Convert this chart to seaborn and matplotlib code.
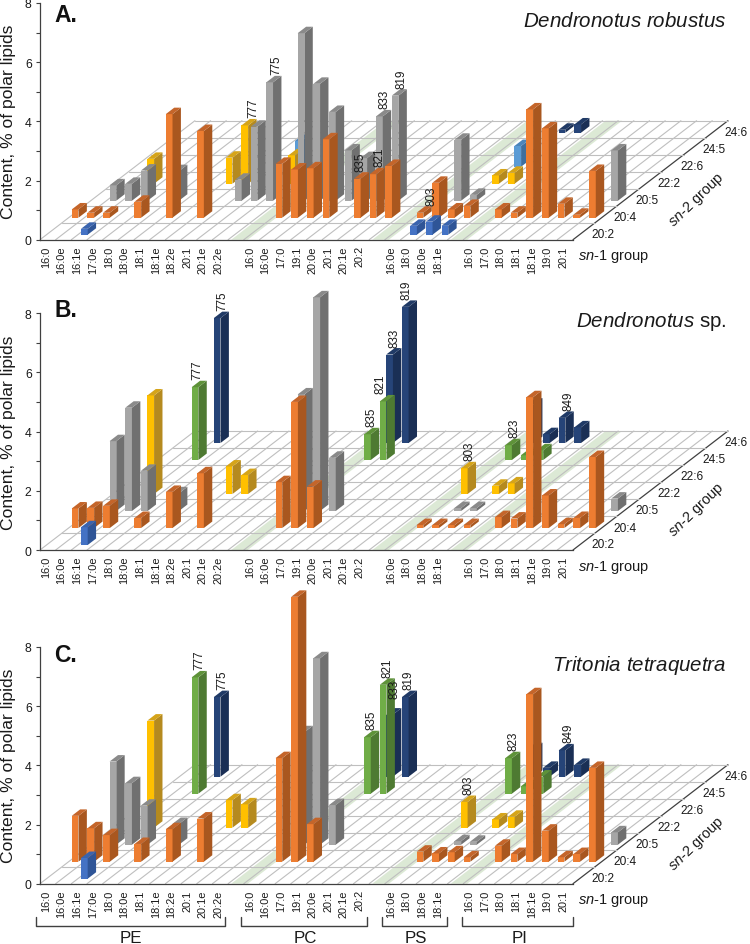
import matplotlib
matplotlib.use("Agg")
import matplotlib.pyplot as plt
import seaborn as sns

# ---------- categories ----------
SN1_LABELS = ["16:0","16:0e","16:1e","17:0e","18:0","18:0e","18:1","18:1e","18:2e","20:1","20:1e","20:2e",
              "16:0","16:0e","17:0","19:1","20:0e","20:1","20:1e","20:2",
              "16:0e","18:0","18:0e","18:1e",
              "16:0","17:0","18:0","18:1","18:1e","19:0","20:1"]
SN1_COLS = list(range(0,12)) + list(range(13,21)) + list(range(22,26)) + list(range(27,34))
SN2_LABELS = ["20:2","20:4","20:5","22:2","22:6","24:5","24:6"]
STRIPE_COLS = [12, 21, 26]
YTICKS = [0,1,2,3,4,5,6,7,8]
YTICKLABELS = ["0","","2","","4","","6","","8"]

# ---------- panel A values (row index, columns, contents) ----------
A_r0_cols = [2,23,24,25]
A_r0_vals = [0.20,0.30,0.44,0.30]
A_r1_cols = [0,1,2,4,6,8,13,14,15,16,18,19,20,22,23,24,25,27,28,29,30,31,32,33]
A_r1_vals = [0.28,0.17,0.17,0.54,3.50,2.93,1.82,1.63,1.67,2.65,1.32,1.47,1.75,0.17,1.18,0.28,0.40,0.28,0.17,3.66,3.02,0.47,0.10,1.58]
A_r2_cols = [1,2,3,5,9,10,11,13,14,15,16,17,18,19,23,24,33]
A_r2_vals = [0.52,0.57,1.02,1.00,0.71,2.50,4.00,5.66,3.95,3.00,1.70,1.44,2.85,3.55,2.06,0.20,1.70]
A_r3_cols = [2,7,8,11,24,25]
A_r3_vals = [0.84,0.88,1.97,0.96,0.28,0.37]
A_r4_cols = [10,24]
A_r4_vals = [0.87,0.70]
A_r5_cols = []
A_r5_vals = []
A_r6_cols = [24,25]
A_r6_vals = [0.10,0.28]

# ---------- panel B values ----------
B_r0_cols = [2]
B_r0_vals = [0.60]
B_r1_cols = [0,1,2,4,6,8,13,14,15,22,23,24,25,27,28,29,30,31,32,33]
B_r1_vals = [0.66,0.68,0.75,0.34,1.22,1.85,1.55,4.26,1.40,0.10,0.10,0.10,0.10,0.37,0.32,4.42,1.10,0.13,0.34,2.40]
B_r2_cols = [1,2,3,5,13,14,15,23,24,33]
B_r2_vals = [2.36,3.49,1.36,0.60,3.94,7.22,1.80,0.10,0.10,0.42]
B_r3_cols = [2,7,8,22,24,25]
B_r3_vals = [3.33,0.93,0.64,0.87,0.28,0.36]
B_r4_cols = []
B_r4_vals = []
B_r5_cols = [2,13,14,22,23,24]
B_r5_vals = [2.46,0.87,1.98,0.50,0.16,0.33]
B_r6_cols = [2,13,14,22,23,24,25]
B_r6_vals = [4.22,2.99,4.60,1.30,0.30,0.85,0.53]

# ---------- panel C values ----------
C_r0_cols = [2]
C_r0_vals = [0.70]
C_r1_cols = [0,1,2,4,6,8,13,14,15,22,23,24,25,27,28,29,30,31,32,33]
C_r1_vals = [1.55,1.13,0.90,0.60,1.10,1.46,3.50,8.95,1.27,0.34,0.28,0.32,0.15,0.54,0.26,5.66,1.05,0.15,0.26,3.17]
C_r2_cols = [1,2,3,5,13,14,15,23,24,33]
C_r2_vals = [2.81,2.08,1.32,0.70,3.80,6.30,1.34,0.12,0.10,0.42]
C_r3_cols = [2,7,8,22,24,25]
C_r3_vals = [3.62,0.93,0.79,0.87,0.28,0.37]
C_r4_cols = []
C_r4_vals = []
C_r5_cols = [2,13,14,22,23,24]
C_r5_vals = [3.93,1.91,3.68,1.20,0.25,0.58]
C_r6_cols = [2,13,14,22,23,24,25]
C_r6_vals = [2.69,2.10,2.69,0.93,0.30,0.89,0.40]

# ---------- m/z labels ----------
A_lab_text = ["777","775","835","821","833","819","803"]
A_lab_row  = [3,2,1,1,2,2,1]
A_lab_col  = [8,11,18,19,18,19,22]
A_lab_dx   = [12,10,7,10,8,10,15]
B_lab_text = ["777","775","835","821","833","819","803","823","849"]
B_lab_row  = [5,6,5,5,6,6,3,5,6]
B_lab_col  = [2,2,13,14,13,14,22,22,24]
B_lab_dx   = [6,9,7,1,8,5,9,9,10]
C_lab_text = ["777","775","835","821","833","819","803","823","849"]
C_lab_row  = [5,6,5,5,6,6,3,5,6]
C_lab_col  = [2,2,13,14,13,14,22,22,24]
C_lab_dx   = [8,9,7,8,8,7,8,8,10]
C_lab_gap  = {"833": 9}

GROUPS = ["PE","PC","PS","PI"]
GROUP_START = [-0.275,12.8,21.8,26.94]
GROUP_END = [11.8,20.87,25.96,34.0]
GROUP_CENTER = [5.8,16.9,24.0,30.6]

# ---------- style ----------
sns.set_theme(style="ticks", font="Liberation Sans")
plt.rcParams.update({"mathtext.fontset":"custom","mathtext.it":"Liberation Sans:italic",
                     "mathtext.rm":"Liberation Sans","mathtext.default":"regular"})
FRONT = sns.color_palette(["#4472C4","#ED7D31","#A6A6A6","#FFC000","#5B9BD5","#70AD47","#264478"])
SIDE  = sns.color_palette(["#2F5597","#A9571F","#707070","#B58A1F","#3F6F9E","#4E7A32","#1A2F55"])
TOP   = sns.color_palette(["#3A64AE","#C4652A","#8A8A8A","#D5A41A","#4C85BB","#5E9239","#203A66"])
FLOOR = "#BFBFBF"; STRIPE = "#DCE9D5"; AXC = "#404040"; TXT = "#1A1A1A"

PX_X, PX_Y = 15.68, 29.6        # pixels per column / per content unit
KX, KY = 22.14/PX_X, 17.0/PX_Y  # shear of one sn-2 row
BAR_W, BAR_D, BAR_C0, BAR_D0 = 0.427, 0.38, 0.2, 0.293

def proj(col, depth, z=0.0):
    return col + depth*KX, z + depth*KY

fig = plt.figure(figsize=(7.5,9.45), dpi=100, facecolor="white")

def note(ax, s, dx, dy, **kw):
    kw.setdefault("color", TXT)
    return ax.annotate(s, xy=(0,0), xycoords="data", xytext=(dx*0.72,dy*0.72),
                       textcoords="offset points", annotation_clip=False, **kw)

def draw_floor(ax):
    for c in STRIPE_COLS:
        pts = [proj(c+.2,0), proj(c+1.25,0), proj(c+1.25,7), proj(c+.2,7)]
        ax.fill(*zip(*pts), color=STRIPE, lw=0, clip_on=False, zorder=1)
    for c in range(0,35):
        a, b = proj(c,0), proj(c,7)
        ax.plot([a[0],b[0]],[a[1],b[1]], color=AXC if c==34 else FLOOR, lw=.9 if c==34 else .8, clip_on=False, zorder=2)
    for r in range(1,8):
        a, b = proj(0,r), proj(34,r)
        ax.plot([a[0],b[0]],[a[1],b[1]], color=FLOOR, lw=.8, clip_on=False, zorder=2)

def draw_bars(ax, rows):
    for r in range(6,-1,-1):
        cols, vals = rows[r]
        z = 10 + (6-r)
        for c, v in zip(cols, vals):
            x0, y0 = proj(c+BAR_C0, r+BAR_D0)
            ax.bar(x0, v, BAR_W, bottom=y0, align="edge", color=FRONT[r], lw=0, clip_on=False, zorder=z)
            x1 = x0+BAR_W; t = y0+v
            dx, dy = BAR_D*KX, BAR_D*KY
            ax.fill([x1,x1+dx,x1+dx,x1],[y0,y0+dy,t+dy,t], color=SIDE[r], lw=0, clip_on=False, zorder=z)
            ax.fill([x0,x1,x1+dx,x0+dx],[t,t,t+dy,t+dy], color=TOP[r], lw=0, clip_on=False, zorder=z)

def draw_labels(ax, rows, text, rw, cl, ddx, gaps=None):
    gaps = gaps or {}
    for s, r, c, d in zip(text, rw, cl, ddx):
        v = rows[r][1][rows[r][0].index(c)]
        x0, y0 = proj(c+BAR_C0, r+BAR_D0+BAR_D, v)
        x0 = c+BAR_C0 + (r+BAR_D0)*KX + d/PX_X
        ax.annotate(s, xy=(x0,y0), xytext=(0,(1.5+gaps.get(s,0))*.72), textcoords="offset points",
                    rotation=90, ha="center", va="bottom", fontsize=8.4, color=TXT, zorder=30, annotation_clip=False)

def panel(y0_px, letter, letter_dy, title, title_dy, rows, lab):
    h = 236.8
    ax = fig.add_axes([40/750, (945-y0_px)/945, 533/750, h/945], zorder=1000-y0_px)
    ax.set_facecolor("none")
    ax.set_xlim(0,34); ax.set_ylim(0,8)
    sns.despine(ax=ax)
    for sp in ("left","bottom"):
        ax.spines[sp].set_color(AXC); ax.spines[sp].set_linewidth(.9)
    ax.set_yticks(YTICKS); ax.set_yticklabels(YTICKLABELS, fontsize=8.8, color=TXT)
    ax.tick_params(axis="y", length=3, width=.8, color=AXC, pad=3)
    ax.set_xticks([c+.38 for c in SN1_COLS])
    ax.set_xticklabels(SN1_LABELS, rotation=90, fontsize=7.9, color=TXT, ha="center", va="top")
    ax.tick_params(axis="x", length=0, pad=4)
    ax.set_ylabel("Content, % of polar lipids", fontsize=12.6, color=TXT)
    ax.yaxis.set_label_coords(-24/533, .5)
    draw_floor(ax)
    draw_bars(ax, rows)
    draw_labels(ax, rows, *lab)
    note(ax, letter, 14, letter_dy, fontsize=16.5, fontweight="bold", color="#111111", ha="left", va="baseline", zorder=40)
    note(ax, title, 686.7, title_dy, fontsize=14.8, ha="right", va="baseline", zorder=40)
    note(ax, r"$\mathit{sn}$-1 group", 538, -16, fontsize=10.5, ha="left", va="center")
    note(ax, r"$\mathit{sn}$-2 group", 657, 40.7, fontsize=10.5, ha="center", va="center", rotation=44)
    for r, s in enumerate(SN2_LABELS):
        x, y = proj(34, r+.5)
        ax.annotate(s, xy=(x,y), xytext=(19*.72,-3*.72), textcoords="offset points",
                    fontsize=8.6, color=TXT, ha="center", va="center", annotation_clip=False)
    return ax

rows_A = [(A_r0_cols,A_r0_vals),(A_r1_cols,A_r1_vals),(A_r2_cols,A_r2_vals),(A_r3_cols,A_r3_vals),
          (A_r4_cols,A_r4_vals),(A_r5_cols,A_r5_vals),(A_r6_cols,A_r6_vals)]
rows_B = [(B_r0_cols,B_r0_vals),(B_r1_cols,B_r1_vals),(B_r2_cols,B_r2_vals),(B_r3_cols,B_r3_vals),
          (B_r4_cols,B_r4_vals),(B_r5_cols,B_r5_vals),(B_r6_cols,B_r6_vals)]
rows_C = [(C_r0_cols,C_r0_vals),(C_r1_cols,C_r1_vals),(C_r2_cols,C_r2_vals),(C_r3_cols,C_r3_vals),
          (C_r4_cols,C_r4_vals),(C_r5_cols,C_r5_vals),(C_r6_cols,C_r6_vals)]

panel(240.7, "A.", 219, r"$\mathit{Dendronotus\ robustus}$", 214, rows_A,
      (A_lab_text,A_lab_row,A_lab_col,A_lab_dx))
panel(551.0, "B.", 234, r"$\mathit{Dendronotus}$ sp.", 224, rows_B,
      (B_lab_text,B_lab_row,B_lab_col,B_lab_dx))
axC = panel(884.7, "C.", 223, r"$\mathit{Tritonia\ tetraquetra}$", 213.7, rows_C,
      (C_lab_text,C_lab_row,C_lab_col,C_lab_dx,C_lab_gap))

for g, a, b, m in zip(GROUPS, GROUP_START, GROUP_END, GROUP_CENTER):
    axC.plot([a,a,b,b],[-1.115,-1.42,-1.42,-1.115], color=AXC, lw=1.0, clip_on=False)
    axC.text(m, -1.82, g, fontsize=12.2, color=TXT, ha="center", va="center", clip_on=False)

fig.savefig("out.png", dpi=100, facecolor="white")
